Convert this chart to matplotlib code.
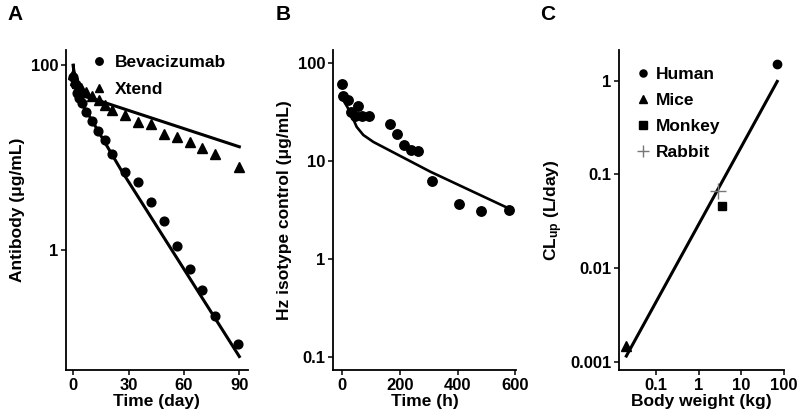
import matplotlib
matplotlib.use("Agg")
import matplotlib.pyplot as plt

plt.rcParams['font.family'] = ['Liberation Sans', 'DejaVu Sans']
plt.rcParams['font.weight'] = 'bold'
plt.rcParams['mathtext.default'] = 'regular'

# ---- Panel A data ----
bev_t = [0, 1, 2, 3, 4.5, 7, 10, 13.5, 17, 21, 28, 35, 42, 49, 56, 63, 70, 77, 89.5]
bev_c = [75, 62, 50, 44, 39, 31, 25, 19.5, 15.5, 11, 7.0, 5.5, 3.3, 2.05, 1.11, 0.62, 0.37, 0.19, 0.096]
xt_t = [0, 1, 2, 3, 4, 7, 10, 14, 17, 21, 28, 35, 42, 49, 56, 63, 70, 77, 90]
xt_c = [80, 70, 65, 60, 57, 52, 47, 42, 37, 33, 29, 24.5, 23, 17.8, 16.8, 14.7, 12.8, 10.9, 7.9]
bev_fit_t = [0, 0.5, 1, 2, 3, 10, 26, 90]
bev_fit_c = [100, 75, 60, 49, 43.5, 25.5, 7.3, 0.07]
xt_fit_t = [0, 0.5, 1, 2, 4, 14.5, 90]
xt_fit_c = [100, 76, 61, 53, 47.5, 41, 13.1]

# ---- Panel B data ----
hz_t = [0, 3.5, 21, 53, 29, 44, 69, 93, 166, 191, 214, 238, 262, 311, 406, 481, 577]
hz_c = [61, 46.6, 42, 36.7, 31.9, 29, 28.8, 29, 23.7, 18.9, 14.6, 13.1, 12.6, 6.2, 3.6, 3.08, 3.18]
hz_fit_t = [4, 27, 50, 73, 108, 305, 577]
hz_fit_c = [42, 32, 22.4, 18.5, 15.7, 7.8, 3.28]

# ---- Panel C data ----
species = ['Human', 'Mice', 'Monkey', 'Rabbit']
bw = [70, 0.02, 3.55, 2.86]
cl = [1.5, 0.00147, 0.0456, 0.066]
cl_fit_bw = [0.02, 70]
cl_fit_cl = [0.00115, 0.98]

fig = plt.figure(figsize=(8, 4.2), dpi=100)

W, H = 800.0, 420.0
top_px, bot_px = 50.0, 370.0

def mk_axes(l, r):
    return fig.add_axes([l / W, 1 - bot_px / H, (r - l) / W, (bot_px - top_px) / H])

def style(ax):
    for s in ['top', 'right']:
        ax.spines[s].set_visible(False)
    for s in ['left', 'bottom']:
        ax.spines[s].set_linewidth(1.3)
    ax.tick_params(axis='both', which='major', length=3.5, width=1.1, labelsize=12, pad=2)
    ax.tick_params(axis='both', which='minor', length=0)
    for lab in ax.get_xticklabels() + ax.get_yticklabels():
        lab.set_fontweight('bold')

LBL = 12.5

# Panel A
axA = mk_axes(65.7, 248)
axA.set_yscale('log')
axA.plot(bev_fit_t, bev_fit_c, color='black', lw=2.2, zorder=2)
axA.plot(xt_fit_t, xt_fit_c, color='black', lw=2.2, zorder=2)
axA.plot(bev_t, bev_c, 'o', color='black', ms=6.3, ls='none', label='Bevacizumab', zorder=3)
axA.plot(xt_t, xt_c, '^', color='black', ms=7, ls='none', label='Xtend', zorder=3)
axA.set_xlim(-4.1, 94.7)
axA.set_ylim(0.050, 146.5)
axA.set_xticks([0, 30, 60, 90])
axA.set_xticklabels(['0', '30', '60', '90'])
axA.set_yticks([1, 100])
axA.set_yticklabels(['1', '100'])
axA.set_xlabel('Time (day)', fontsize=LBL, fontweight='bold', labelpad=1)
axA.set_ylabel('Antibody (\u03bcg/mL)', fontsize=LBL, fontweight='bold', labelpad=4)
style(axA)
axA.legend(loc='upper left', bbox_to_anchor=(0.135, 0.985), frameon=False,
           prop={'size': LBL, 'weight': 'bold'}, handlelength=1.0, handletextpad=0.4,
           borderaxespad=0, borderpad=0, labelspacing=0.7, markerscale=0.85)

# Panel B
axB = mk_axes(333, 516)
axB.set_yscale('log')
axB.plot(hz_fit_t, hz_fit_c, color='black', lw=1.9, zorder=2)
axB.plot(hz_t, hz_c, 'o', color='black', ms=6.8, ls='none', zorder=3)
axB.set_xlim(-32, 602)
axB.set_ylim(0.073, 137)
axB.set_xticks([0, 200, 400, 600])
axB.set_xticklabels(['0', '200', '400', '600'])
axB.set_yticks([0.1, 1, 10, 100])
axB.set_yticklabels(['0.1', '1', '10', '100'])
axB.set_xlabel('Time (h)', fontsize=LBL, fontweight='bold', labelpad=1)
axB.set_ylabel('Hz isotype control (\u03bcg/mL)', fontsize=LBL, fontweight='bold', labelpad=4)
style(axB)

# Panel C
axC = mk_axes(619.3, 784)
axC.set_xscale('log')
axC.set_yscale('log')
axC.plot(cl_fit_bw, cl_fit_cl, color='black', lw=2.2, zorder=2)
mstyles = {
    'Human': dict(marker='o', color='black', ms=6),
    'Mice': dict(marker='^', color='black', ms=6.5),
    'Monkey': dict(marker='s', color='black', ms=6),
    'Rabbit': dict(marker='+', color='#777777', ms=11, mew=1.0),
}
for sp, x, y in zip(species, bw, cl):
    axC.plot([x], [y], ls='none', label=sp, zorder=3, **mstyles[sp])
axC.set_xlim(0.01368, 101)
axC.set_ylim(0.000816, 2.12)
axC.set_xticks([0.1, 1, 10, 100])
axC.set_xticklabels(['0.1', '1', '10', '100'])
axC.set_yticks([0.001, 0.01, 0.1, 1])
axC.set_yticklabels(['0.001', '0.01', '0.1', '1'])
axC.set_xlabel('Body weight (kg)', fontsize=LBL, fontweight='bold', labelpad=1)
axC.set_ylabel(r'CL$_{up}$ (L/day)', fontsize=LBL, fontweight='bold', labelpad=4)
style(axC)
axC.legend(loc='upper left', bbox_to_anchor=(0.101, 0.947), frameon=False,
           prop={'size': LBL, 'weight': 'bold'}, handlelength=0.8, handletextpad=0.35,
           borderaxespad=0, borderpad=0, labelspacing=0.62, markerscale=0.85)

# Panel letters
for txt, x in [('A', 15), ('B', 283), ('C', 548)]:
    fig.text(x / W, 1 - 15 / H, txt, fontsize=15, fontweight='bold', ha='center', va='center')

fig.savefig('out.png', dpi=100)
